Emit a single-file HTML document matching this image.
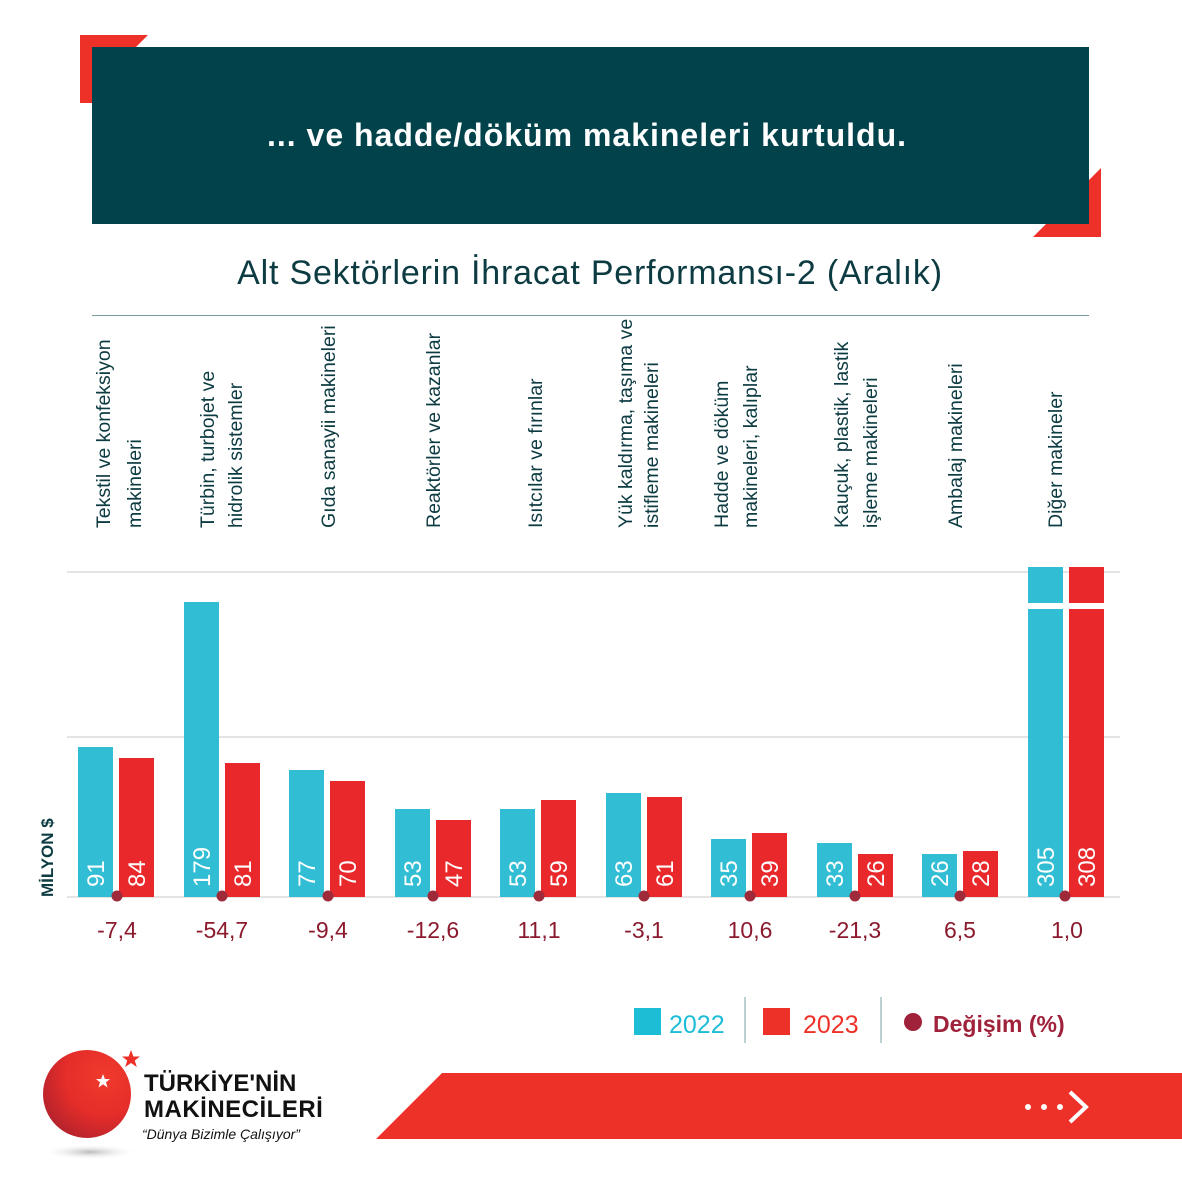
<!DOCTYPE html>
<html><head><meta charset="utf-8"><style>
html,body{margin:0;padding:0;background:#fff;}
svg{display:block;font-family:"Liberation Sans",sans-serif;}
</style></head><body>
<svg width="1182" height="1182" viewBox="0 0 1182 1182" xmlns="http://www.w3.org/2000/svg">
<defs>
<radialGradient id="rg" cx="0.7" cy="0.3" r="0.9">
<stop offset="0" stop-color="#f03a2c"/><stop offset="0.5" stop-color="#e52d2a"/><stop offset="1" stop-color="#a51f2d"/>
</radialGradient>
<radialGradient id="sh" cx="0.5" cy="0.5" r="0.5">
<stop offset="0" stop-color="#bbb"/><stop offset="1" stop-color="#fff" stop-opacity="0"/>
</radialGradient>
</defs>
<!-- header -->
<polygon points="80,35 148,35 92,91 92,103 80,103" fill="#ee3128"/>
<polygon points="1101,168 1101,237 1033,237 1089,181 1089,180" fill="#ee3128"/>
<rect x="92" y="47" width="997" height="177" fill="#02424b"/>
<text x="587" y="146" font-size="32" font-weight="bold" fill="#fff" text-anchor="middle" letter-spacing="1">... ve hadde/döküm makineleri kurtuldu.</text>
<text x="590" y="284" font-size="34" fill="#0d3b42" text-anchor="middle" letter-spacing="0.8">Alt Sektörlerin İhracat Performansı-2 (Aralık)</text>
<line x1="92" y1="315.5" x2="1089" y2="315.5" stroke="#7a9a9e" stroke-width="1"/>
<!-- category labels -->
<g font-size="19.5" fill="#0d3b42">
<text transform="translate(110,528) rotate(-90)">Tekstil ve konfeksiyon</text>
<text transform="translate(141,528) rotate(-90)">makineleri</text>
<text transform="translate(214,528) rotate(-90)">Türbin, turbojet ve</text>
<text transform="translate(242,528) rotate(-90)">hidrolik sistemler</text>
<text transform="translate(335,528) rotate(-90)">Gıda sanayii makineleri</text>
<text transform="translate(440,528) rotate(-90)">Reaktörler ve kazanlar</text>
<text transform="translate(542,528) rotate(-90)">Isıtcılar ve fırınlar</text>
<text transform="translate(632,528) rotate(-90)">Yük kaldırma, taşıma ve</text>
<text transform="translate(658,528) rotate(-90)">istifleme makineleri</text>
<text transform="translate(728,528) rotate(-90)">Hadde ve döküm</text>
<text transform="translate(757,528) rotate(-90)">makineleri, kalıplar</text>
<text transform="translate(848,528) rotate(-90)">Kauçuk, plastik, lastik</text>
<text transform="translate(877,528) rotate(-90)">işleme makineleri</text>
<text transform="translate(962,528) rotate(-90)">Ambalaj makineleri</text>
<text transform="translate(1062,528) rotate(-90)">Diğer makineler</text>
</g>
<!-- grid -->
<g stroke="#dcdcdc" stroke-width="1.5">
<line x1="67" y1="572" x2="1120" y2="572"/>
<line x1="67" y1="737" x2="1120" y2="737"/>
<line x1="67" y1="897" x2="1120" y2="897"/>
</g>
<text transform="translate(53,897) rotate(-90)" font-size="17" font-weight="bold" fill="#0d3b42">MİLYON $</text>
<!-- bars -->
<g>
<rect x="78" y="747" width="35" height="150" fill="#31bed4"/><rect x="119" y="758" width="35" height="139" fill="#e8282b"/>
<rect x="184" y="602" width="35" height="295" fill="#31bed4"/><rect x="225" y="763" width="35" height="134" fill="#e8282b"/>
<rect x="289" y="770" width="35" height="127" fill="#31bed4"/><rect x="330" y="781" width="35" height="116" fill="#e8282b"/>
<rect x="395" y="809" width="35" height="88" fill="#31bed4"/><rect x="436" y="820" width="35" height="77" fill="#e8282b"/>
<rect x="500" y="809" width="35" height="88" fill="#31bed4"/><rect x="541" y="800" width="35" height="97" fill="#e8282b"/>
<rect x="606" y="793" width="35" height="104" fill="#31bed4"/><rect x="647" y="797" width="35" height="100" fill="#e8282b"/>
<rect x="711" y="839" width="35" height="58" fill="#31bed4"/><rect x="752" y="833" width="35" height="64" fill="#e8282b"/>
<rect x="817" y="843" width="35" height="54" fill="#31bed4"/><rect x="858" y="854" width="35" height="43" fill="#e8282b"/>
<rect x="922" y="854" width="35" height="43" fill="#31bed4"/><rect x="963" y="851" width="35" height="46" fill="#e8282b"/>
<rect x="1028" y="567" width="35" height="36" fill="#31bed4"/><rect x="1069" y="567" width="35" height="36" fill="#e8282b"/>
<rect x="1028" y="609" width="35" height="288" fill="#31bed4"/><rect x="1069" y="609" width="35" height="288" fill="#e8282b"/>
</g>
<!-- values -->
<g font-size="24" fill="#fff">
<text transform="translate(104,887) rotate(-90)">91</text><text transform="translate(145,887) rotate(-90)">84</text>
<text transform="translate(210,887) rotate(-90)">179</text><text transform="translate(251,887) rotate(-90)">81</text>
<text transform="translate(315,887) rotate(-90)">77</text><text transform="translate(356,887) rotate(-90)">70</text>
<text transform="translate(421,887) rotate(-90)">53</text><text transform="translate(462,887) rotate(-90)">47</text>
<text transform="translate(526,887) rotate(-90)">53</text><text transform="translate(567,887) rotate(-90)">59</text>
<text transform="translate(632,887) rotate(-90)">63</text><text transform="translate(673,887) rotate(-90)">61</text>
<text transform="translate(737,887) rotate(-90)">35</text><text transform="translate(778,887) rotate(-90)">39</text>
<text transform="translate(843,887) rotate(-90)">33</text><text transform="translate(884,887) rotate(-90)">26</text>
<text transform="translate(948,887) rotate(-90)">26</text><text transform="translate(989,887) rotate(-90)">28</text>
<text transform="translate(1054,887) rotate(-90)">305</text><text transform="translate(1095,887) rotate(-90)">308</text>
</g>
<!-- dots -->
<g fill="#9e2a3a">
<circle cx="117" cy="896" r="5.5"/><circle cx="222" cy="896" r="5.5"/><circle cx="328" cy="896" r="5.5"/>
<circle cx="433" cy="896" r="5.5"/><circle cx="539" cy="896" r="5.5"/><circle cx="644" cy="896" r="5.5"/>
<circle cx="750" cy="896" r="5.5"/><circle cx="855" cy="896" r="5.5"/><circle cx="960" cy="896" r="5.5"/>
<circle cx="1065" cy="896" r="5.5"/>
</g>
<g font-size="23" fill="#8b1a2e" text-anchor="middle">
<text x="117" y="938">-7,4</text><text x="222" y="938">-54,7</text><text x="328" y="938">-9,4</text>
<text x="433" y="938">-12,6</text><text x="539" y="938">11,1</text><text x="644" y="938">-3,1</text>
<text x="750" y="938">10,6</text><text x="855" y="938">-21,3</text><text x="960" y="938">6,5</text>
<text x="1067" y="938">1,0</text>
</g>
<!-- legend -->
<rect x="634" y="1008" width="27" height="27" fill="#1dbdd5"/>
<text x="669" y="1033" font-size="25" fill="#1dbdd5">2022</text>
<line x1="745" y1="997" x2="745" y2="1043" stroke="#7a9fa6" stroke-width="1"/>
<rect x="763" y="1008" width="27" height="27" fill="#ee3128"/>
<text x="803" y="1033" font-size="25" fill="#ee3128">2023</text>
<line x1="881" y1="997" x2="881" y2="1043" stroke="#7a9fa6" stroke-width="1"/>
<circle cx="913" cy="1022" r="9" fill="#a0213a"/>
<text x="933" y="1032" font-size="23" font-weight="bold" fill="#a0213a">Değişim (%)</text>
<!-- banner -->
<polygon points="442,1073 1182,1073 1182,1139 376,1139" fill="#ee3128"/>
<g fill="#fff"><circle cx="1028" cy="1107" r="3"/><circle cx="1044" cy="1107" r="3"/><circle cx="1060" cy="1107" r="3"/></g>
<polyline points="1070,1092 1086,1107 1070,1122" fill="none" stroke="#fff" stroke-width="4"/>
<!-- logo -->
<ellipse cx="90" cy="1152" rx="48" ry="8" fill="url(#sh)"/>
<circle cx="87" cy="1094" r="44" fill="url(#rg)"/>
<polygon points="131,1050 133.4,1056.5 140,1056.5 134.8,1060.5 136.8,1067 131,1063 125.2,1067 127.2,1060.5 122,1056.5 128.6,1056.5" fill="#ee3128"/>
<polygon points="103,1074 104.9,1079 110,1079 106,1082.2 107.5,1087.5 103,1084.3 98.5,1087.5 100,1082.2 96,1079 101.1,1079" fill="#fff"/>
<text x="144" y="1091" font-size="24" font-weight="bold" fill="#111">TÜRKİYE'NİN</text>
<text x="144" y="1117" font-size="24" font-weight="bold" fill="#111" letter-spacing="0.5">MAKİNECİLERİ</text>
<text x="142" y="1139" font-size="14" font-style="italic" fill="#111">“Dünya Bizimle Çalışıyor”</text>
</svg>
</body></html>
